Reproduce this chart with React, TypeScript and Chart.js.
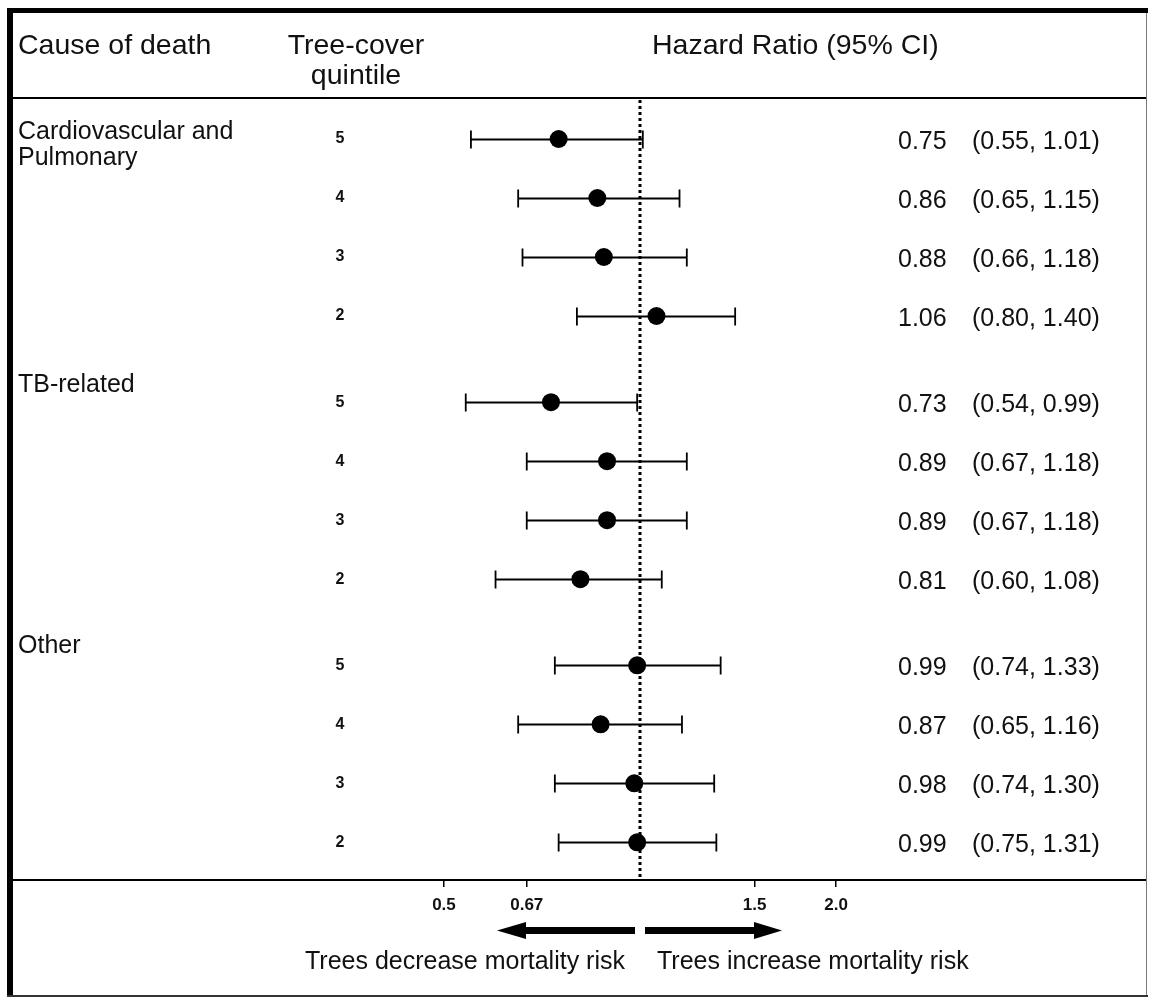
import React, { useEffect, useRef } from "react";
import { Chart, registerables } from "chart.js";

Chart.register(...registerables);

// ---- data ----
const groupLabels = [["Cardiovascular and", "Pulmonary"], ["TB-related"], ["Other"]];
const quintiles = ["5", "4", "3", "2"];
const hazardRatios = [0.75, 0.86, 0.88, 1.06, 0.73, 0.89, 0.89, 0.81, 0.99, 0.87, 0.98, 0.99];
const ciLower = [0.55, 0.65, 0.66, 0.8, 0.54, 0.67, 0.67, 0.6, 0.74, 0.65, 0.74, 0.75];
const ciUpper = [1.01, 1.15, 1.18, 1.4, 0.99, 1.18, 1.18, 1.08, 1.33, 1.16, 1.3, 1.31];
const tickValues = [0.5, 0.67, 1.5, 2.0];
const tickLabels = ["0.5", "0.67", "1.5", "2.0"];
const headerCause = "Cause of death";
const headerQuintile = ["Tree-cover", "quintile"];
const headerHR = "Hazard Ratio (95% CI)";
const arrowLeftLabel = "Trees decrease mortality risk";
const arrowRightLabel = "Trees increase mortality risk";

// ---- layout helpers ----
const GROUP_GAP = 0.46;
const rowsPerGroup = quintiles.length;
const rowPositions: number[] = [];
const rowQuintile: string[] = [];
groupLabels.forEach((_, g) => {
  quintiles.forEach((q, r) => {
    rowPositions.push(g * (rowsPerGroup + GROUP_GAP) + r);
    rowQuintile.push(q);
  });
});
const groupLabelOffset = [-0.11, -0.29, -0.33];

const FONT = "Arial, 'Liberation Sans', Helvetica, sans-serif";

const forestPlugin = {
  id: "forest",
  beforeDatasetsDraw(chart: any) {
    const { ctx, chartArea, scales } = chart;
    const x = scales.x;
    const y = scales.y;
    ctx.save();
    // reference line at HR = 1
    const x1 = Math.round(x.getPixelForValue(1));
    ctx.strokeStyle = "#000";
    ctx.lineWidth = 3;
    ctx.setLineDash([3, 3]);
    ctx.beginPath();
    ctx.moveTo(x1, chartArea.top + 2);
    ctx.lineTo(x1, chartArea.bottom);
    ctx.stroke();
    ctx.setLineDash([]);
    // confidence intervals
    ctx.lineWidth = 1.8;
    rowPositions.forEach((v, i) => {
      const py = Math.round(y.getPixelForValue(v)) + 0.5;
      const xl = x.getPixelForValue(ciLower[i]);
      const xh = x.getPixelForValue(ciUpper[i]);
      ctx.beginPath();
      ctx.moveTo(xl, py);
      ctx.lineTo(xh, py);
      ctx.moveTo(xl, py - 9);
      ctx.lineTo(xl, py + 9);
      ctx.moveTo(xh, py - 9);
      ctx.lineTo(xh, py + 9);
      ctx.stroke();
    });
    ctx.restore();
  },
  afterDraw(chart: any) {
    const { ctx, scales } = chart;
    const y = scales.y;
    ctx.save();
    ctx.fillStyle = "#000";
    // frame
    ctx.fillRect(7, 8, 1141, 5);
    ctx.fillRect(7, 8, 6, 989);
    ctx.fillStyle = "#7a7a7a";
    ctx.fillRect(1146, 13, 1, 983);
    ctx.fillStyle = "#333";
    ctx.fillRect(7, 995, 1141, 2);
    ctx.fillStyle = "#000";
    ctx.fillRect(13, 97, 1133, 2);

    ctx.fillStyle = "#111";
    ctx.textBaseline = "middle";
    // headers
    ctx.font = `28.5px ${FONT}`;
    ctx.textAlign = "left";
    ctx.fillText(headerCause, 18, 46);
    ctx.fillText(headerHR, 652, 46);
    ctx.textAlign = "center";
    ctx.fillText(headerQuintile[0], 356, 46);
    ctx.fillText(headerQuintile[1], 356, 76);

    // group labels
    ctx.font = `25px ${FONT}`;
    ctx.textAlign = "left";
    groupLabels.forEach((lines, g) => {
      const base = y.getPixelForValue(g * (rowsPerGroup + GROUP_GAP) + groupLabelOffset[g]);
      lines.forEach((ln, k) => ctx.fillText(ln, 18, base + k * 26));
    });

    // quintile numbers
    ctx.font = `bold 16px ${FONT}`;
    ctx.textAlign = "center";
    rowPositions.forEach((v, i) => {
      ctx.fillText(rowQuintile[i], 340, y.getPixelForValue(v));
    });

    // HR text
    ctx.font = `25px ${FONT}`;
    ctx.textAlign = "left";
    rowPositions.forEach((v, i) => {
      const py = y.getPixelForValue(v) + 3;
      ctx.fillText(hazardRatios[i].toFixed(2), 898, py);
      ctx.fillText(`(${ciLower[i].toFixed(2)}, ${ciUpper[i].toFixed(2)})`, 972, py);
    });

    // arrows
    ctx.fillStyle = "#000";
    ctx.fillRect(524, 927, 111, 7);
    ctx.beginPath();
    ctx.moveTo(497, 930.5);
    ctx.lineTo(526, 922);
    ctx.lineTo(526, 939);
    ctx.closePath();
    ctx.fill();
    ctx.fillRect(645, 927, 111, 7);
    ctx.beginPath();
    ctx.moveTo(782, 930.5);
    ctx.lineTo(754, 922);
    ctx.lineTo(754, 939);
    ctx.closePath();
    ctx.fill();

    ctx.fillStyle = "#111";
    ctx.font = `25px ${FONT}`;
    ctx.textAlign = "right";
    ctx.fillText(arrowLeftLabel, 625, 962);
    ctx.textAlign = "left";
    ctx.fillText(arrowRightLabel, 657, 962);
    ctx.restore();
  },
};

export default function App() {
  const canvasRef = useRef<HTMLCanvasElement | null>(null);
  useEffect(() => {
    if (!canvasRef.current) return;
    const pxPerLn = 282.8;
    const left = 13;
    const right = 1146;
    const refPx = 640;
    const xMin = Math.exp((left - refPx) / pxPerLn);
    const xMax = Math.exp((right - refPx) / pxPerLn);
    const topPx = 98;
    const bottomPx = 880;
    const firstRowPx = 139;
    const rowPx = 59;
    const yMin = (topPx - firstRowPx) / rowPx;
    const yMax = (bottomPx - firstRowPx) / rowPx;

    const chart = new Chart(canvasRef.current, {
      type: "scatter",
      data: {
        datasets: [
          {
            data: rowPositions.map((v, i) => ({ x: hazardRatios[i], y: v })),
            backgroundColor: "#000",
            borderColor: "#000",
            pointRadius: 9,
            pointHoverRadius: 9,
            borderWidth: 0,
          },
        ],
      },
      options: {
        responsive: false,
        animation: false,
        devicePixelRatio: 1,
        layout: { autoPadding: false, padding: { left: left, right: 1150 - right, top: topPx, bottom: 0 } },
        plugins: { legend: { display: false }, tooltip: { enabled: false } },
        scales: {
          x: {
            type: "logarithmic",
            position: "bottom",
            min: xMin,
            max: xMax,
            afterBuildTicks: (scale: any) => {
              scale.ticks = tickValues.map((v) => ({ value: v }));
            },
            afterFit: (scale: any) => {
              scale.height = 998 - bottomPx;
            },
            border: { display: true, color: "#000", width: 2 },
            grid: {
              display: true,
              drawOnChartArea: false,
              drawTicks: true,
              tickLength: 7,
              color: "#000",
              lineWidth: 1.5,
            },
            ticks: {
              autoSkip: false,
              maxRotation: 0,
              minRotation: 0,
              padding: 8,
              color: "#111",
              font: { size: 17, weight: "bold", family: FONT },
              callback: (value: any) => {
                const idx = tickValues.indexOf(Number(value));
                return idx >= 0 ? tickLabels[idx] : "";
              },
            },
          },
          y: {
            type: "linear",
            display: false,
            reverse: true,
            min: yMin,
            max: yMax,
          },
        },
      },
      plugins: [forestPlugin],
    } as any);
    return () => chart.destroy();
  }, []);

  return (
    <div style={{ position: "absolute", left: 0, top: 0, width: 1150, height: 998, background: "#fff" }}>
      <canvas ref={canvasRef} width={1150} height={998} style={{ display: "block" }} />
    </div>
  );
}
